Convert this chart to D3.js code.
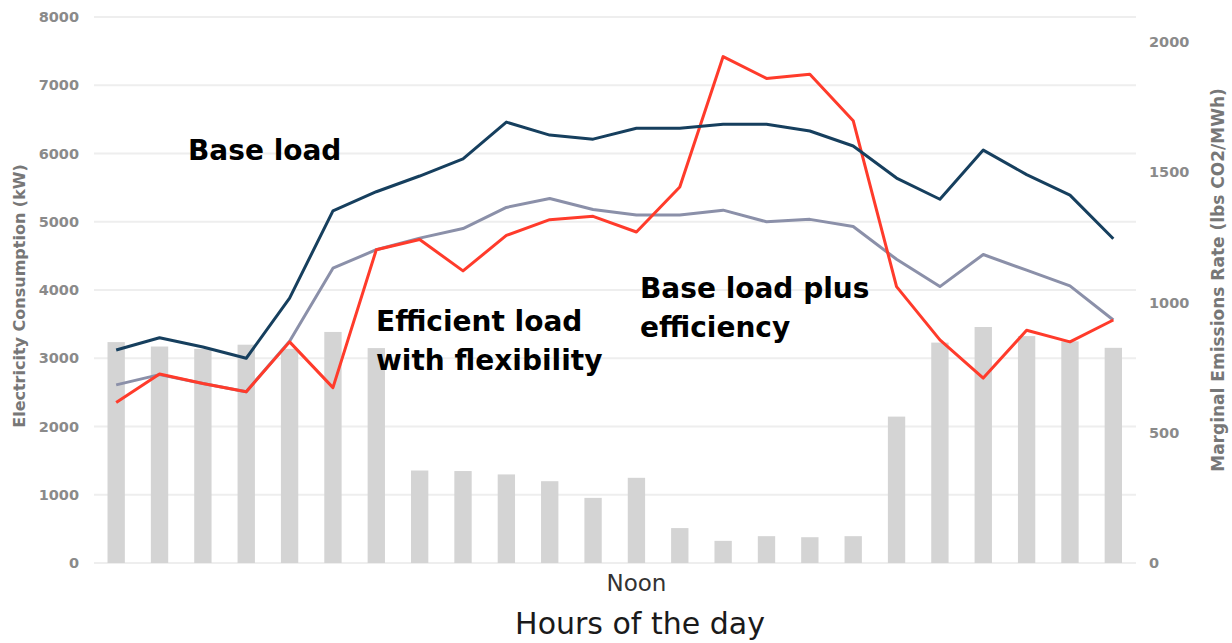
<!DOCTYPE html>
<html>
<head>
<meta charset="utf-8">
<script src="https://cdn.jsdelivr.net/npm/d3@7"></script>
<style>
  body { margin: 0; background: #fff; }
  svg { display: block; }
</style>
</head>
<body>
<div id="chart"></div>
<script>
// Hours of the day (categories)
const hours = ["0","1","2","3","4","5","6","7","8","9","10","11","12","13","14","15","16","17","18","19","20","21","22","23"];

// Marginal emissions rate (lbs CO2/MWh), right axis - bars
const emissions = [848, 831, 822, 838, 822, 887, 825, 355, 353, 340, 314, 250,
                   327, 134, 85, 103, 99, 103, 562, 846, 906, 871, 851, 826];

// Electricity consumption (kW), left axis - lines
const baseLoad = [3120, 3300, 3165, 3000, 3880, 5160, 5440, 5670, 5920, 6460, 6270, 6210,
                  6370, 6370, 6430, 6430, 6330, 6110, 5640, 5330, 6050, 5690, 5390, 4750];
const baseLoadEfficiency = [2610, 2760, 2630, 2510, 3250, 4320, 4590, 4760, 4900, 5210, 5340, 5180,
                            5100, 5100, 5170, 5000, 5035, 4930, 4450, 4050, 4520, 4290, 4060, 3560];
const efficientFlex = [2350, 2770, 2630, 2510, 3240, 2570, 4590, 4740, 4280, 4800, 5030, 5080,
                       4850, 5510, 7420, 7100, 7160, 6480, 4050, 3270, 2710, 3410, 3240, 3560];

const leftTicks = [0, 1000, 2000, 3000, 4000, 5000, 6000, 7000, 8000];
const rightTicks = [0, 500, 1000, 1500, 2000];

const width = 1232, height = 643;

const svg = d3.select("#chart").append("svg")
    .attr("width", width)
    .attr("height", height);

// Scales
const x = d3.scaleBand()
    .domain(hours)
    .range([94.5, 1135])
    .paddingInner(0.6)
    .paddingOuter(0.3);

const yLeft = d3.scaleLinear().domain([0, 8000]).range([563, 17]);
const yRight = d3.scaleLinear().domain([0, 2000]).range([563, 42]);

const cx = d => x(d) + x.bandwidth() / 2;

// Gridlines
svg.append("g")
    .selectAll("line")
    .data(leftTicks)
    .join("line")
    .attr("x1", 94)
    .attr("x2", 1136)
    .attr("y1", d => yLeft(d))
    .attr("y2", d => yLeft(d))
    .attr("stroke", "#eeeeee")
    .attr("stroke-width", 2);

// Bars
svg.append("g")
    .selectAll("rect")
    .data(emissions)
    .join("rect")
    .attr("x", (d, i) => x(hours[i]))
    .attr("y", d => yRight(d))
    .attr("width", x.bandwidth())
    .attr("height", d => yRight(0) - yRight(d))
    .attr("fill", "#d4d4d4");

// Left axis
const leftAxis = svg.append("g")
    .attr("transform", "translate(79,0)")
    .call(d3.axisLeft(yLeft).tickValues(leftTicks).tickFormat(d3.format("d")).tickSize(0).tickPadding(0));
leftAxis.select(".domain").remove();
leftAxis.selectAll("text")
    .attr("fill", "#8a8a8a")
    .style("font-family", "DejaVu Sans")
    .style("font-weight", "bold")
    .style("font-size", "14.5px");

// Right axis
const rightAxis = svg.append("g")
    .attr("transform", "translate(1149,0)")
    .call(d3.axisRight(yRight).tickValues(rightTicks).tickFormat(d3.format("d")).tickSize(0).tickPadding(0));
rightAxis.select(".domain").remove();
rightAxis.selectAll("text")
    .attr("fill", "#8a8a8a")
    .style("font-family", "DejaVu Sans")
    .style("font-weight", "bold")
    .style("font-size", "14.5px");

// Axis titles
svg.append("text")
    .attr("transform", "translate(25,296) rotate(-90)")
    .attr("text-anchor", "middle")
    .attr("fill", "#777")
    .style("font-family", "DejaVu Sans")
    .style("font-weight", "bold")
    .style("font-size", "16px")
    .text("Electricity Consumption (kW)");

svg.append("text")
    .attr("transform", "translate(1224,280) rotate(-90)")
    .attr("text-anchor", "middle")
    .attr("fill", "#777")
    .style("font-family", "DejaVu Sans")
    .style("font-weight", "bold")
    .style("font-size", "17px")
    .text("Marginal Emissions Rate (lbs CO2/MWh)");

// X axis: only Noon label
const xAxis = svg.append("g")
    .attr("transform", "translate(0,575)")
    .call(d3.axisBottom(x).tickValues(["12"]).tickFormat(() => "Noon").tickSize(0).tickPadding(0));
xAxis.select(".domain").remove();
xAxis.selectAll("text")
    .attr("dy", "0.71em")
    .attr("fill", "#333")
    .style("font-family", "DejaVu Sans")
    .style("font-size", "23px");

svg.append("text")
    .attr("x", 640)
    .attr("y", 634)
    .attr("text-anchor", "middle")
    .attr("fill", "#1a1a1a")
    .style("font-family", "DejaVu Sans")
    .style("font-size", "30px")
    .text("Hours of the day");

// Lines
const line = d3.line()
    .x((d, i) => cx(hours[i]))
    .y(d => yLeft(d));

const series = [
    { values: baseLoadEfficiency, color: "#8b90a9" },
    { values: efficientFlex, color: "#ff3b2b" },
    { values: baseLoad, color: "#163f5e" }
];

svg.append("g")
    .selectAll("path")
    .data(series)
    .join("path")
    .attr("d", d => line(d.values))
    .attr("fill", "none")
    .attr("stroke", d => d.color)
    .attr("stroke-width", 3)
    .attr("stroke-linejoin", "round");

// Annotations
const labels = [
    { lines: ["Base load"], x: 188, y: 160 },
    { lines: ["Efficient load", "with flexibility"], x: 376, y: 331 },
    { lines: ["Base load plus", "efficiency"], x: 640, y: 298 }
];

labels.forEach(l => {
    const t = svg.append("text")
        .attr("x", l.x)
        .attr("y", l.y)
        .attr("fill", "#000")
        .style("font-family", "DejaVu Sans")
        .style("font-weight", "bold")
        .style("font-size", "28px");
    l.lines.forEach((s, i) => {
        t.append("tspan")
            .attr("x", l.x)
            .attr("dy", i === 0 ? 0 : 39)
            .text(s);
    });
});
</script>
</body>
</html>
